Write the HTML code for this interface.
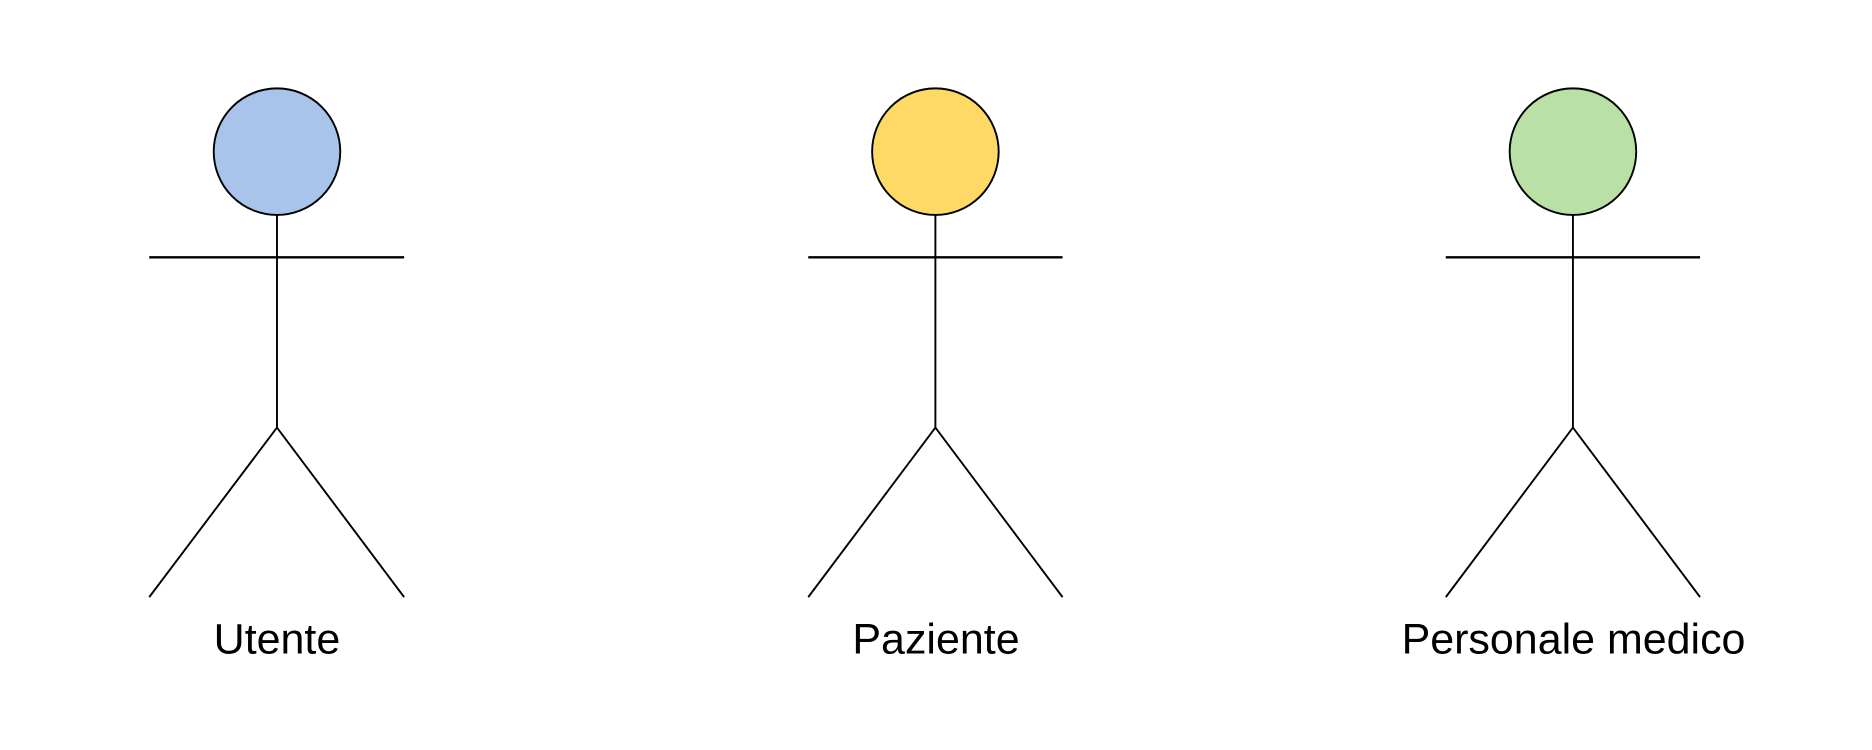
<!DOCTYPE html>
<html><head><meta charset="utf-8"><style>
html,body{margin:0;padding:0;background:#fff;width:1872px;height:750px;overflow:hidden}
svg{display:block}
</style></head><body>
<svg width="1872" height="750" viewBox="0 0 1568 628" preserveAspectRatio="none" xmlns="http://www.w3.org/2000/svg">
<g stroke="#000" stroke-width="1.6" fill="none">
 <circle cx="232" cy="127" r="53" fill="#a9c4eb"/>
 <line x1="232" y1="180" x2="232" y2="358"/>
 <line x1="125" y1="215.5" x2="338.5" y2="215.5" stroke-width="2"/>
 <polyline points="125,500 232,358 338.5,500"/>
</g>
<g stroke="#000" stroke-width="1.6" fill="none">
 <circle cx="783.5" cy="127" r="53" fill="#ffd966"/>
 <line x1="783.5" y1="180" x2="783.5" y2="358"/>
 <line x1="677" y1="215.5" x2="890" y2="215.5" stroke-width="2"/>
 <polyline points="677,500 783.5,358 890,500"/>
</g>
<g stroke="#000" stroke-width="1.6" fill="none">
 <circle cx="1317.5" cy="127" r="53" fill="#b9e0a5"/>
 <line x1="1317.5" y1="180" x2="1317.5" y2="358"/>
 <line x1="1211" y1="215.5" x2="1424" y2="215.5" stroke-width="2"/>
 <polyline points="1211,500 1317.5,358 1424,500"/>
</g>
<g font-family="'Liberation Sans', sans-serif" font-size="36" fill="#000" text-anchor="middle">
 <text x="232" y="547">Utente</text>
 <text x="784" y="547">Paziente</text>
 <text x="1318" y="547">Personale medico</text>
</g>
</svg>
</body></html>
